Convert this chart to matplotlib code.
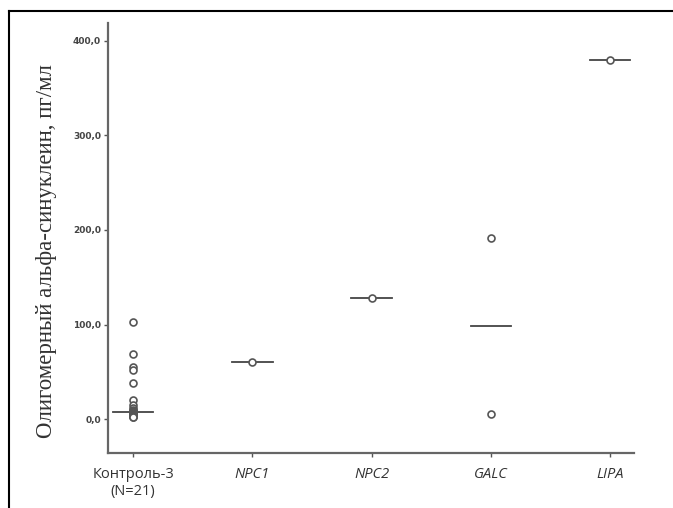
import numpy as np
import matplotlib.pyplot as plt
from matplotlib.lines import Line2D

# ### DATA ###
groups = ['Контроль-3\n(N=21)', 'NPC1', 'NPC2', 'GALC', 'LIPA']
control = [103, 69, 55, 52, 38, 20, 15, 12, 10, 9, 8, 7, 6, 5, 5, 4, 4, 3, 3, 2, 2]
npc1 = [60]
npc2 = [128]
galc = [192, 5]
lipa = [380]
values = [control, npc1, npc2, galc, lipa]
yticks = [0, 100, 200, 300, 400]
ytick_labels = ['0,0', '100,0', '200,0', '300,0', '400,0']

fig = plt.figure(figsize=(6.73, 5.08), dpi=100)
ax = fig.add_axes([0.1605, 0.108, 0.7815, 0.847])

for i, v in enumerate(values):
    ax.plot([i] * len(v), v, 'o', mfc='white', mec='#555555', mew=1.2, ms=5, zorder=3)
    med = np.median(v)
    ax.plot([i - 0.17, i + 0.17], [med, med], '-', color='#444444', lw=1.3, zorder=2)

ax.set_xlim(-0.21, 4.2)
ax.set_ylim(-36, 419)
ax.set_yticks(yticks)
ax.set_yticklabels(ytick_labels, fontsize=6.5, color='#444444', fontweight='bold')
ax.set_xticks(range(len(groups)))
ax.set_xticklabels(groups, fontsize=10.5, color='#333333', family='Open Sans')
for lab in ax.get_xticklabels()[1:]:
    lab.set_style('italic')

for s in ['top', 'right']:
    ax.spines[s].set_visible(False)
for s in ['left', 'bottom']:
    ax.spines[s].set_color('#666666')
    ax.spines[s].set_linewidth(1.6)
ax.tick_params(axis='both', length=3, width=1, color='#555555', pad=2)
ax.tick_params(axis='x', pad=7)

ax.set_ylabel('Олигомерный альфа-синуклеин, пг/мл', family='Liberation Serif',
              fontsize=16.5, color='#333333')
ax.yaxis.set_label_coords(-0.097, 0.47)

# outer frame (top and left only)
fig.add_artist(Line2D([0.013, 1.0], [0.978, 0.978], color='black', lw=1.5))
fig.add_artist(Line2D([0.013, 0.013], [0.978, 0.0], color='black', lw=1.5))

plt.savefig('out.png', dpi=100)
